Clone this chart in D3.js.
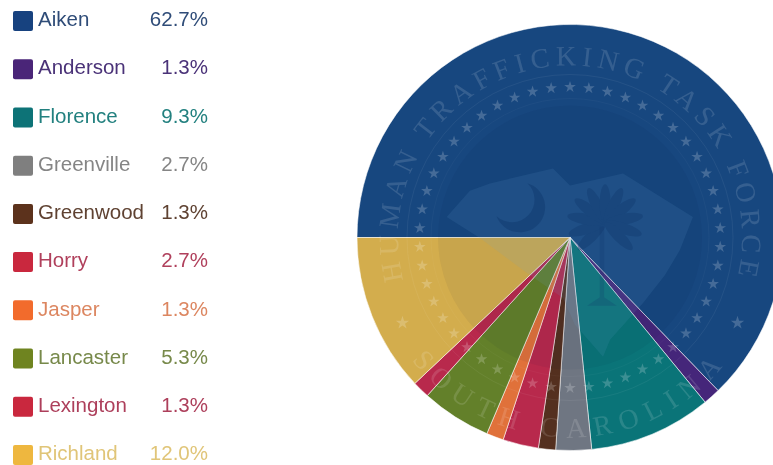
<!DOCTYPE html>
<html><head><meta charset="utf-8">
<script src="https://cdn.jsdelivr.net/npm/d3@7/dist/d3.min.js"></script>
<style>
html,body{margin:0;padding:0;background:#fff;overflow:hidden}
svg{display:block;filter:blur(0.45px)}
text{font-family:"Liberation Sans",Arial,sans-serif}
</style></head><body>
<svg id="chart" width="773" height="465"></svg>
<script>
const categories = ["Aiken","Anderson","Florence","Greenville","Greenwood","Horry","Jasper","Lancaster","Lexington","Richland"];
const values = [62.7,1.3,9.3,2.7,1.3,2.7,1.3,5.3,1.3,12.0];
const sliceColors = ["#17477f","#45267a","#0a7478","#6f7682","#54301f","#b8294c","#e0713a","#63802a","#b8294c","#d3ad4d"];
const swatchColors = ["#17427f","#4a2578","#0d7377","#7f7f7f","#5c321c","#c9283e","#f26b2c","#6f8420","#c9283e","#eeb73f"];
const textColors = ["#2f4c78","#4a3278","#22807f","#858585","#5f4232","#b0405c","#dc8660","#77894a","#ad3f5b","#e0c578"];
const topTitle = "HUMAN TRAFFICKING TASK FORCE";
const bottomTitle = "SOUTH CAROLINA";
// emblem state outline, as offsets from the pie centre in fractions of the radius
const stateOutline = [[-.579,-.096],[-.47,-.22],[-.376,-.254],[-.08,-.324],[0,-.244],[.249,-.30],[.577,-.096],[.516,.059],[.446,.176],[.343,.308],[.188,.48],[.155,.56],[.094,.49],[.023,.41],[-.033,.284],[-.202,.167],[-.423,.002]];
// palmetto frond directions in degrees from straight up
const frondAngles = [-135,-108,-80,-52,-26,0,26,52,80,108,135];

const svg = d3.select("#chart");
const cx = 570, cy = 237.5, R = 213;

// legend
const rowY = d3.scalePoint().domain(categories).range([19,453]);
const legend = svg.append("g").selectAll("g").data(categories).join("g")
  .attr("transform", d => `translate(0,${rowY(d)})`);
legend.append("rect").attr("x",13).attr("y",-8).attr("width",20).attr("height",20).attr("rx",2)
  .attr("fill",(d,i)=>swatchColors[i]);
legend.append("text").attr("x",38).attr("dy","0.35em").attr("font-size",20.5)
  .attr("fill",(d,i)=>textColors[i]).text(d=>d);
legend.append("text").attr("x",208).attr("dy","0.35em").attr("text-anchor","end").attr("font-size",20.5)
  .attr("fill",(d,i)=>textColors[i]).text((d,i)=>d3.format(".1f")(values[i])+"%");

// pie
const g = svg.append("g").attr("transform",`translate(${cx},${cy})`);
const pie = d3.pie().sort(null).startAngle(-Math.PI/2).endAngle(Math.PI*1.5);
const arc = d3.arc().innerRadius(0).outerRadius(R);
g.selectAll("path.slice").data(pie(values)).join("path").attr("class","slice")
  .attr("d",arc).attr("fill",(d,i)=>sliceColors[i])
  .attr("stroke","#fff").attr("stroke-opacity",.55).attr("stroke-width",1);

// emblem overlay
const em = g.append("g").attr("pointer-events","none");
em.append("circle").attr("r",132).attr("fill","#001a44").attr("opacity",.05);
em.append("circle").attr("r",163).attr("fill","none").attr("stroke","#fff").attr("stroke-opacity",.06);
em.append("circle").attr("r",139).attr("fill","none").attr("stroke","#fff").attr("stroke-opacity",.03);

const scale = d3.scaleLinear().domain([0,1]).range([0,R]);
const stateLine = d3.line().x(d=>scale(d[0])).y(d=>scale(d[1])).curve(d3.curveLinearClosed);
em.append("path").attr("d",stateLine(stateOutline)).attr("fill","#6aa6d8").attr("opacity",.12);

// crescent
em.append("path").attr("fill","#0d3468").attr("opacity",.4)
  .attr("d",`M${scale(-.2)},${scale(-.255)} A${scale(.118)},${scale(.118)} 0 1 1 ${scale(-.345)},${scale(-.1)} A${scale(.105)},${scale(.105)} 0 0 0 ${scale(-.2)},${scale(-.255)}Z`);

// palmetto
const palm = em.append("g").attr("fill","#0d3468").attr("opacity",.32).attr("transform",`translate(${scale(.165)},${scale(-.07)})`);
palm.selectAll("ellipse").data(frondAngles).join("ellipse")
  .attr("cx",0).attr("cy",-scale(.09)).attr("rx",scale(.026)).attr("ry",scale(.09))
  .attr("transform",d=>`rotate(${d})`);
em.append("path").attr("fill","#0d3468").attr("opacity",.2)
  .attr("d",`M${scale(.14)},${scale(-.05)} L${scale(.16)},${scale(-.05)} L${scale(.16)},${scale(.28)} L${scale(.22)},${scale(.32)} L${scale(.08)},${scale(.32)} L${scale(.14)},${scale(.28)}Z`);

// stars
const star = d3.symbol().type(d3.symbolStar).size(42);
em.selectAll("path.star").data(d3.range(50)).join("path").attr("class","star")
  .attr("d",star).attr("fill","#fff").attr("opacity",.2)
  .attr("transform",i=>{const a=i*7.2*Math.PI/180;return `translate(${150.5*Math.sin(a)},${-150.5*Math.cos(a)})`;});
em.selectAll("path.sep").data([-117,117]).join("path").attr("class","sep")
  .attr("d",d3.symbol().type(d3.symbolStar).size(55)).attr("fill","#fff").attr("opacity",.2)
  .attr("transform",d=>{const a=d*Math.PI/180;return `translate(${188*Math.sin(a)},${-188*Math.cos(a)})`;});

// ring titles
const defs = svg.append("defs");
defs.append("path").attr("id","ringTop").attr("d",`M0,${172} A172,172 0 1 1 0,${-172} A172,172 0 1 1 0,${172}`);
defs.append("path").attr("id","ringBottom").attr("d",`M0,${-200} A200,200 0 1 0 0,200 A200,200 0 1 0 0,${-200}`);
function ringText(id,str,arcLen){
  const t = em.append("text").attr("font-size",28).attr("fill","#fff").attr("opacity",.13)
    .style("font-family","'Liberation Serif',serif").attr("text-anchor","middle");
  t.append("textPath").attr("href","#"+id).attr("startOffset","50%").text(str);
  const w = t.node().getComputedTextLength();
  t.style("letter-spacing",((arcLen-w)/(str.length-1))+"px");
}
ringText("ringTop",topTitle,172*207*Math.PI/180);
ringText("ringBottom",bottomTitle,200*102*Math.PI/180);
</script>
</body></html>
